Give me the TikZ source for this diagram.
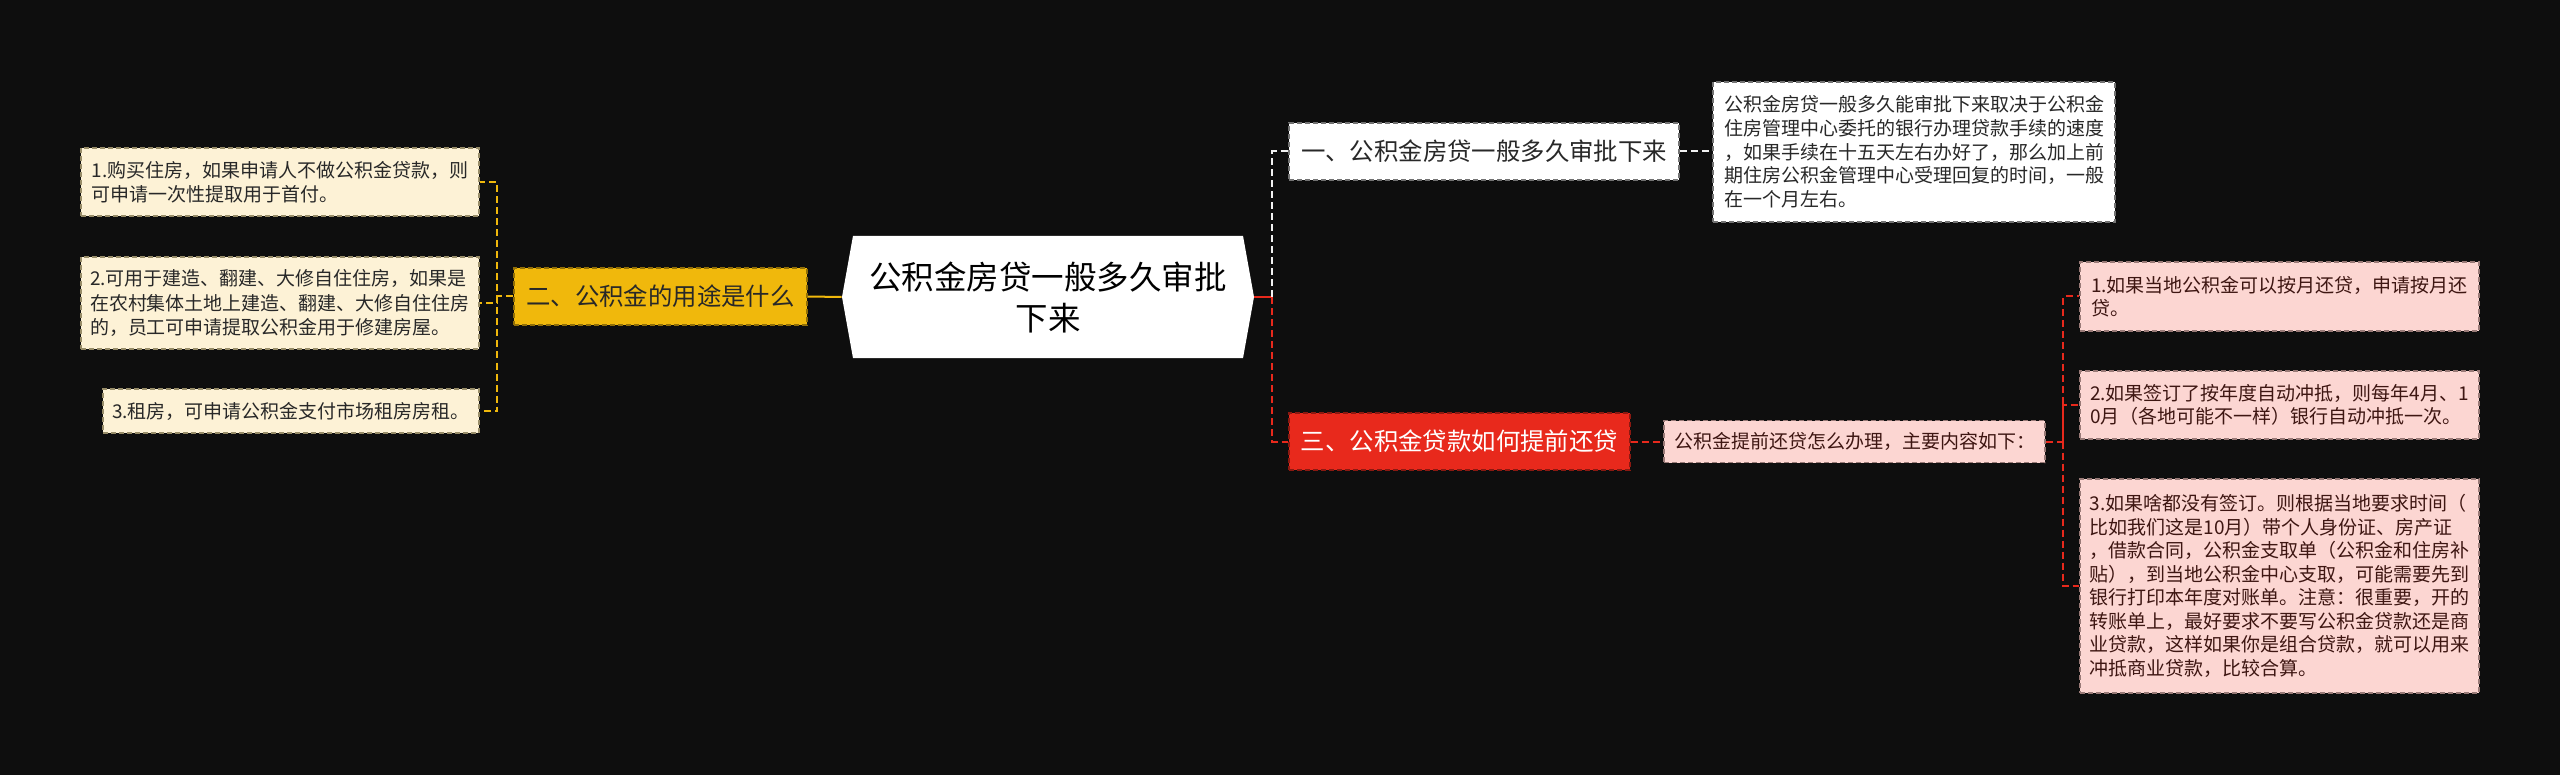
\documentclass[tikz,border=0pt]{standalone}
\usepackage{fontspec}
\setmainfont{Noto Sans CJK SC}
\usetikzlibrary{shapes.symbols}
\definecolor{clrBg}{RGB}{14,14,14}
\definecolor{clrY}{RGB}{240,184,12}
\definecolor{clrYl}{RGB}{253,242,214}
\definecolor{clrR}{RGB}{232,41,28}
\definecolor{clrRl}{RGB}{252,214,210}
\definecolor{clrTxt}{RGB}{40,40,40}
\definecolor{clrRtxt}{RGB}{62,22,18}
\tikzset{
  box/.style={rectangle,inner sep=0pt,align=left,
    line width=0.8pt,dash pattern=on 2.5pt off 1.5pt},
  rootbox/.style={signal,signal to=west and east,signal pointer angle=159.6,
    fill=white,draw=none,text=black,align=center,inner sep=0pt,
    font=\fontsize{16.25pt}{20.5pt}\selectfont},
  branchY/.style={box,fill=clrY,draw=clrY!60!black,text=clrTxt,
    font=\fontsize{12.2pt}{15pt}\selectfont},
  branchW/.style={box,fill=white,draw=black!55,text=clrTxt,
    font=\fontsize{12.2pt}{15pt}\selectfont},
  branchR/.style={box,fill=clrR,draw=clrR!60!black,text=white,
    font=\fontsize{12.2pt}{15pt}\selectfont},
  leafY/.style={box,fill=clrYl,draw=clrY!35!black!60,text=clrTxt,
    font=\fontsize{9.5pt}{12.2pt}\selectfont},
  leafW/.style={box,fill=white,draw=black!55,text=clrTxt,
    font=\fontsize{9.5pt}{11.85pt}\selectfont},
  leafR/.style={box,fill=clrRl,draw=clrR!30!black!55,text=clrRtxt,
    font=\fontsize{9.5pt}{11.75pt}\selectfont},
  link/.style={line width=1pt,dash pattern=on 3.5pt off 2pt},
  linkY/.style={link,draw=clrY},
  linkW/.style={link,draw=white!90!gray},
  linkR/.style={link,draw=clrR}
}

\begin{document}
\begin{tikzpicture}[x=0.5pt,y=-0.5pt]
  \fill[clrBg] (0,0) rectangle (2560,775);
  \useasboundingbox (0,0) rectangle (2560,775);

  \node[rootbox,minimum width=206pt,minimum height=61pt] (root) at (1048,297)
    {公积金房贷一般多久审批\\下来};

  % left side
  \node[branchY,minimum width=146.5pt,minimum height=28.5pt] (use) at (660.5,296.5)
    {二、公积金的用途是什么};
  \node[leafY,minimum width=199pt,minimum height=34pt] (leafL1) at (280,182)
    {1.购买住房，如果申请人不做公积金贷款，则\\
     可申请一次性提取用于首付。};
  \node[leafY,minimum width=199pt,minimum height=46pt] (leafL2) at (280,303)
    {2.可用于建造、翻建、大修自住住房，如果是\\
     在农村集体土地上建造、翻建、大修自住住房\\
     的，员工可申请提取公积金用于修建房屋。};
  \node[leafY,minimum width=188pt,minimum height=22pt] (leafL3) at (291,411)
    {3.租房，可申请公积金支付市场租房房租。};

  % right side
  \node[branchW,minimum width=195pt,minimum height=28.5pt] (q1) at (1484,151.5)
    {一、公积金房贷一般多久审批下来};
  \node[leafW,minimum width=201pt,minimum height=70pt] (ans1) at (1914,152)
    {公积金房贷一般多久能审批下来取决于公积金\\
     住房管理中心委托的银行办理贷款手续的速度\\
     ，如果手续在十五天左右办好了，那么加上前\\
     期住房公积金管理中心受理回复的时间，一般\\
     在一个月左右。};
  \node[branchR,minimum width=170.5pt,minimum height=28.5pt] (q3) at (1459.5,441.5)
    {三、公积金贷款如何提前还贷};
  \node[leafR,minimum width=190.5pt,minimum height=21pt] (howto) at (1854.5,441.5)
    {公积金提前还贷怎么办理，主要内容如下：};
  \node[leafR,minimum width=199.5pt,minimum height=34.5pt] (leafR1) at (2279.5,296.5)
    {1.如果当地公积金可以按月还贷，申请按月还\\
     贷。};
  \node[leafR,minimum width=199.5pt,minimum height=34pt] (leafR2) at (2279.5,405)
    {2.如果签订了按年度自动冲抵，则每年4月、1\\
     0月（各地可能不一样）银行自动冲抵一次。};
  \node[leafR,minimum width=199.5pt,minimum height=107pt] (leafR3) at (2279.5,586)
    {3.如果啥都没有签订。则根据当地要求时间（\\
     比如我们这是10月）带个人身份证、房产证\\
     ，借款合同，公积金支取单（公积金和住房补\\
     贴），到当地公积金中心支取，可能需要先到\\
     银行打印本年度对账单。注意：很重要，开的\\
     转账单上，最好要求不要写公积金贷款还是商\\
     业贷款，这样如果你是组合贷款，就可以用来\\
     冲抵商业贷款，比较合算。};

  \coordinate (ljoin) at (497,296.5);
  \coordinate (rjoin) at (1272,297);
  \coordinate (hjoin) at (2063,441.5);

  \draw[linkY,solid] (root.west) -- (use.east);
  \draw[linkY] (use.west) -- (ljoin) |- (leafL1.east);
  \draw[linkY] (ljoin) |- (leafL2.east);
  \draw[linkY] (ljoin) |- (leafL3.east);

  \draw[linkR,solid] (root.east) -- (rjoin);
  \draw[linkW] (rjoin) |- (q1.west);
  \draw[linkR] (rjoin) |- (q3.west);
  \draw[linkW] (q1.east) -- (q1.east -| ans1.west);
  \draw[linkR] (q3.east) -- (howto.west);
  \draw[linkR] (howto.east) -- (hjoin) |- (leafR1.west);
  \draw[linkR] (hjoin) |- (leafR2.west);
  \draw[linkR] (hjoin) |- (leafR3.west);
\end{tikzpicture}
\end{document}
